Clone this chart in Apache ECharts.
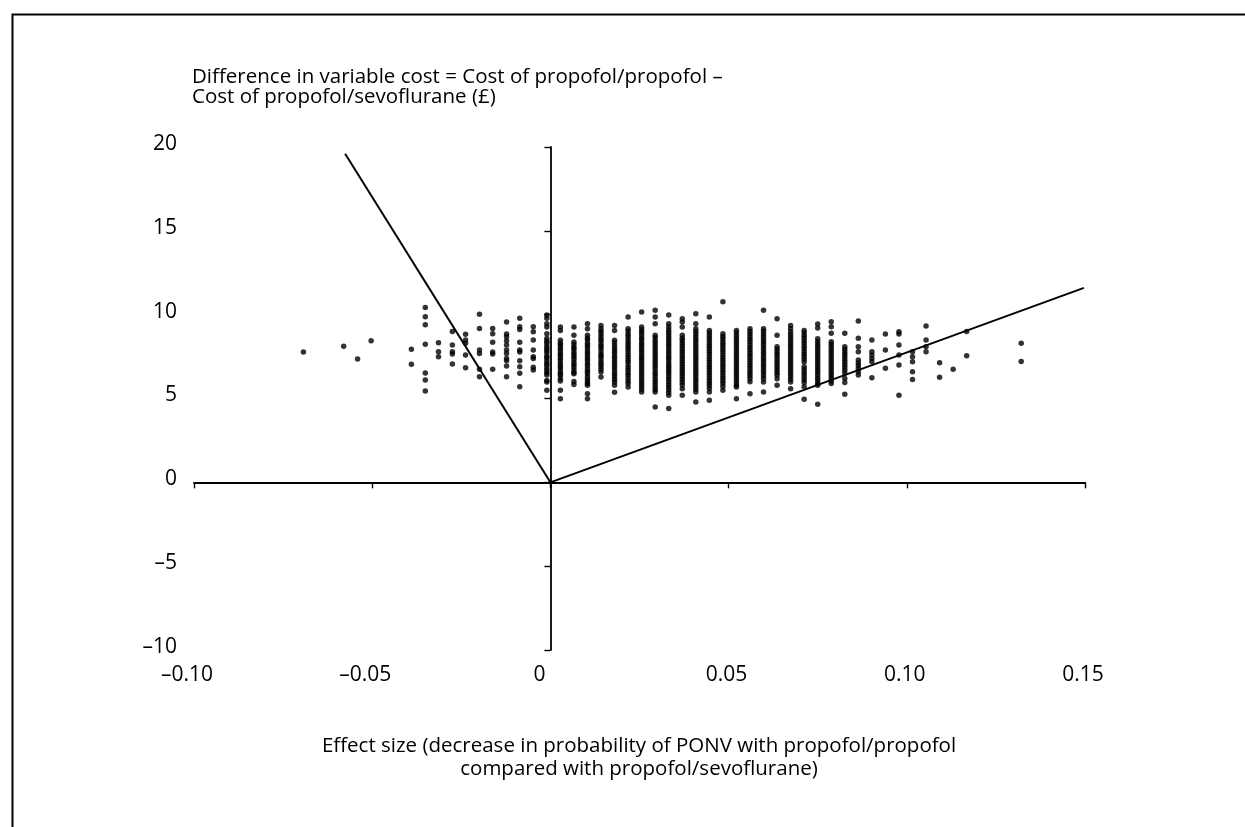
<!DOCTYPE html>
<html>
<head>
<meta charset="utf-8">
<script src="https://cdn.jsdelivr.net/npm/echarts@6/dist/echarts.min.js"></script>
<style>
html,body{margin:0;padding:0;background:#fff;}
#chart{width:1245px;height:827px;}
</style>
</head>
<body>
<div id="chart"></div>
<script>
// ---- data ----
const xTickValues = [-0.10, -0.05, 0, 0.05, 0.10, 0.15];
const xTickLabels = ['\u20130.10', '\u20130.05', '0', '0.05', '0.10', '0.15'];
const yTickValues = [-10, -5, 0, 5, 10, 15, 20];
const yTickLabels = ['\u201310', '\u20135', '0', '5', '10', '15', '20'];

const yAxisTitle = ['Difference in variable cost = Cost of propofol/propofol \u2013', 'Cost of propofol/sevoflurane (\u00a3)'];
const xAxisTitle = ['Effect size (decrease in probability of PONV with propofol/propofol', 'compared with propofol/sevoflurane)'];

// threshold lines through the origin
const thresholdLeft = [[0, 0], [-0.0576, 19.6]];
const thresholdRight = [[0, 0], [0.1497, 11.6]];

// scatter columns: x value of each column and the y values of its points
const colX = [-0.0693, -0.0580, -0.0541, -0.0503, -0.0390, -0.0351, -0.0314, -0.0275, -0.0238, -0.0199,
  -0.0162, -0.0123, -0.0086, -0.0048, -0.0010, 0.0028, 0.0066, 0.0104, 0.0142, 0.0180,
  0.0218, 0.0256, 0.0294, 0.0332, 0.0370, 0.0408, 0.0446, 0.0484, 0.0522, 0.0560,
  0.0598, 0.0636, 0.0674, 0.0712, 0.0750, 0.0788, 0.0826, 0.0864, 0.0902, 0.0940,
  0.0978, 0.1016, 0.1054, 0.1092, 0.1130, 0.1168, 0.1321];
const colY = [
  [7.78],
  [8.11],
  [7.35],
  [8.45],
  [7.93, 7.04],
  [10.43, 9.88, 9.40, 8.23, 6.52, 6.10, 5.45],
  [8.33, 7.79, 7.49],
  [9.00, 8.19, 7.79, 7.65, 7.06],
  [8.83, 8.49, 8.29, 7.59, 6.83],
  [10.02, 9.18, 7.89, 7.69, 6.74, 6.30],
  [9.18, 8.86, 8.35, 7.77, 7.65, 6.74],
  [9.56, 8.85, 8.68, 8.45, 8.19, 7.89, 7.69, 7.39, 7.25, 6.94, 6.30],
  [9.78, 9.28, 9.12, 8.36, 7.89, 7.77, 7.25, 6.90, 6.50, 5.70],
  [9.28, 8.98, 8.49, 7.89, 7.49, 7.39, 6.86, 6.70],
  [9.98, 9.78, 9.46, 9.26, 8.86, 8.58, 8.41, 8.30, 8.12, 7.98, 7.85, 7.71, 7.52, 7.43, 7.27, 7.10, 6.98, 6.81, 6.66, 6.52, 6.40, 6.08, 5.98, 5.49],
  [9.26, 9.06, 8.47, 8.30, 8.18, 8.01, 7.88, 7.70, 7.58, 7.41, 7.29, 7.12, 6.95, 6.83, 6.66, 6.51, 6.38, 6.20, 6.05, 5.49, 4.99],
  [9.26, 8.77, 8.37, 8.22, 8.05, 7.93, 7.76, 7.62, 7.47, 7.33, 7.15, 7.01, 6.87, 6.70, 6.55, 6.48, 6.02, 5.83],
  [9.46, 9.16, 8.77, 8.61, 8.49, 8.30, 8.16, 8.02, 7.85, 7.71, 7.56, 7.40, 7.26, 7.09, 6.95, 6.78, 6.62, 6.49, 6.31, 6.17, 6.02, 5.90, 5.79, 5.28, 4.99],
  [9.36, 9.16, 9.01, 8.86, 8.70, 8.55, 8.41, 8.24, 8.10, 7.96, 7.79, 7.63, 7.50, 7.36, 7.18, 7.05, 6.90, 6.74, 6.58, 6.28],
  [9.36, 9.06, 8.47, 8.32, 8.15, 7.99, 7.84, 7.70, 7.52, 7.39, 7.22, 7.08, 6.91, 6.77, 6.60, 6.45, 6.30, 6.13, 5.98, 5.79, 5.37],
  [9.86, 9.16, 9.02, 8.85, 8.71, 8.55, 8.38, 8.24, 8.08, 7.93, 7.77, 7.61, 7.46, 7.30, 7.17, 7.00, 6.84, 6.69, 6.52, 6.38, 6.21, 6.05, 5.89, 5.68],
  [10.16, 9.26, 9.10, 8.96, 8.80, 8.63, 8.50, 8.33, 8.19, 8.04, 7.88, 7.73, 7.57, 7.42, 7.28, 7.11, 6.97, 6.80, 6.66, 6.49, 6.34, 6.18, 6.02, 5.87, 5.71, 5.55, 5.39],
  [10.26, 9.86, 9.46, 8.77, 8.62, 8.45, 8.31, 8.14, 8.00, 7.84, 7.69, 7.53, 7.39, 7.22, 7.07, 6.92, 6.77, 6.60, 6.46, 6.30, 6.14, 5.99, 5.82, 5.67, 5.52, 5.39, 4.49],
  [9.98, 9.46, 9.26, 9.09, 8.93, 8.78, 8.62, 8.47, 8.31, 8.16, 8.01, 7.85, 7.70, 7.54, 7.40, 7.23, 7.08, 6.93, 6.78, 6.62, 6.47, 6.31, 6.16, 6.00, 5.84, 5.69, 5.52, 5.36, 5.19, 4.41],
  [9.76, 9.56, 9.26, 8.77, 8.60, 8.46, 8.29, 8.15, 7.98, 7.83, 7.68, 7.52, 7.37, 7.21, 7.06, 6.90, 6.75, 6.59, 6.44, 6.28, 6.13, 5.97, 5.80, 5.58, 5.19],
  [10.06, 9.46, 9.16, 9.00, 8.84, 8.69, 8.53, 8.38, 8.22, 8.07, 7.91, 7.76, 7.60, 7.44, 7.29, 7.13, 6.98, 6.82, 6.67, 6.51, 6.36, 6.20, 6.04, 5.88, 5.71, 5.55, 5.39, 4.79],
  [9.86, 9.06, 8.90, 8.74, 8.58, 8.43, 8.27, 8.11, 7.96, 7.80, 7.65, 7.49, 7.33, 7.18, 7.02, 6.87, 6.71, 6.55, 6.40, 6.24, 6.08, 5.93, 5.77, 5.60, 5.39, 4.89],
  [10.77, 8.86, 8.70, 8.55, 8.39, 8.23, 8.08, 7.92, 7.77, 7.61, 7.45, 7.30, 7.14, 6.99, 6.83, 6.67, 6.52, 6.36, 6.21, 6.05, 5.89, 5.72, 5.49],
  [9.06, 8.90, 8.74, 8.59, 8.43, 8.28, 8.12, 7.97, 7.81, 7.65, 7.50, 7.34, 7.19, 7.03, 6.88, 6.72, 6.56, 6.41, 6.25, 6.10, 5.94, 5.79, 5.68, 4.99],
  [9.16, 9.00, 8.84, 8.69, 8.53, 8.38, 8.22, 8.06, 7.91, 7.75, 7.60, 7.44, 7.29, 7.13, 6.97, 6.82, 6.66, 6.51, 6.35, 6.19, 6.00, 5.28],
  [10.26, 9.16, 9.01, 8.85, 8.70, 8.54, 8.39, 8.23, 8.07, 7.92, 7.76, 7.61, 7.45, 7.30, 7.14, 6.98, 6.83, 6.67, 6.52, 6.36, 6.20, 5.98, 5.39],
  [9.76, 8.77, 8.09, 7.93, 7.78, 7.62, 7.47, 7.31, 7.16, 7.00, 6.85, 6.69, 6.54, 6.38, 6.18, 5.79],
  [9.36, 9.16, 8.96, 8.80, 8.64, 8.49, 8.33, 8.18, 8.02, 7.87, 7.71, 7.55, 7.40, 7.24, 7.09, 6.93, 6.78, 6.62, 6.46, 6.31, 6.15, 5.98, 5.58],
  [9.06, 8.90, 8.74, 8.59, 8.43, 8.28, 8.12, 7.96, 7.81, 7.65, 7.50, 7.34, 7.17, 6.90, 6.74, 6.58, 6.43, 6.27, 6.11, 5.95, 5.70, 4.95],
  [9.45, 9.20, 8.56, 8.40, 8.24, 8.09, 7.93, 7.78, 7.62, 7.46, 7.31, 7.15, 7.00, 6.84, 6.68, 6.53, 6.37, 6.21, 6.06, 5.90, 5.79, 4.65],
  [9.58, 9.28, 8.89, 8.39, 8.23, 8.08, 7.92, 7.77, 7.61, 7.46, 7.30, 7.15, 6.99, 6.83, 6.68, 6.52, 6.37, 6.21, 6.05, 5.90],
  [8.89, 8.09, 7.93, 7.78, 7.62, 7.47, 7.31, 7.16, 7.00, 6.85, 6.68, 6.50, 6.20, 5.95, 5.25],
  [9.62, 8.59, 8.09, 7.79, 7.29, 7.12, 6.95, 6.78, 6.60, 6.40],
  [8.49, 7.79, 7.59, 7.39, 7.19, 6.24],
  [8.85, 7.89, 6.80],
  [8.98, 8.85, 8.19, 7.59, 7.00, 5.19],
  [7.79, 7.49, 7.19, 6.60, 6.14],
  [9.32, 8.49, 8.09, 7.79],
  [7.13, 6.26],
  [6.75],
  [9.00, 7.55],
  [8.30, 7.20]
];

// ---- build ----
const points = [];
colX.forEach((x, i) => colY[i].forEach(y => points.push([x, y])));

const FONT = '"Open Sans", "Noto Sans", sans-serif';
function tickFormatter(values, labels) {
  return v => {
    for (let i = 0; i < values.length; i++) {
      if (Math.abs(values[i] - v) < 1e-9) {
        const t = labels[i];
        if (Math.abs(v) < 1e-12) return '{z|' + t + '}';
        if (v < 0) return '{n|' + t + '}';
        return '{p|' + t + '}';
      }
    }
    return '';
  };
}
const labelText = {color: '#000', fontSize: 21, fontFamily: FONT};

const chart = echarts.init(document.getElementById('chart'), null, {renderer: 'canvas'});
chart.setOption({
  animation: false,
  backgroundColor: '#fff',
  grid: {left: 194, right: 160, top: 147, bottom: 177, containLabel: false},
  xAxis: [
    {
      type: 'value', min: -0.10, max: 0.15, interval: 0.05, position: 'bottom',
      axisLine: {show: false, onZero: false},
      axisTick: {show: false},
      splitLine: {show: false},
      axisLabel: {
        formatter: tickFormatter(xTickValues, xTickLabels), margin: 15,
        color: '#000', fontSize: 21, fontFamily: FONT,
        rich: {
          p: Object.assign({padding: [0, 4, 0, 0]}, labelText),
          n: Object.assign({padding: [0, 14, 0, 0]}, labelText),
          z: Object.assign({padding: [0, 22, 0, 0]}, labelText)
        }
      }
    },
    {
      type: 'value', min: -0.10, max: 0.15, interval: 0.05, position: 'bottom',
      axisLine: {show: true, onZero: true, onZeroAxisIndex: 0, lineStyle: {color: '#000', width: 1.8}},
      axisTick: {show: true, length: 6, lineStyle: {color: '#000', width: 1.4}},
      splitLine: {show: false},
      axisLabel: {show: false}
    }
  ],
  yAxis: [
    {
      type: 'value', min: -10, max: 20, interval: 5, position: 'left',
      axisLine: {show: false, onZero: false},
      axisTick: {show: false},
      splitLine: {show: false},
      axisLabel: {
        formatter: v => {
          for (let i = 0; i < yTickValues.length; i++) {
            if (yTickValues[i] === v) return '{a|' + yTickLabels[i] + '}';
          }
          return '';
        },
        margin: 17, color: '#000', fontSize: 21, fontFamily: FONT,
        rich: {a: Object.assign({padding: [0, 0, 6, 0]}, labelText)}
      }
    },
    {
      type: 'value', min: -10, max: 20, interval: 5, position: 'left',
      axisLine: {show: true, onZero: true, onZeroAxisIndex: 0, lineStyle: {color: '#000', width: 1.8}},
      axisTick: {show: true, length: 6, lineStyle: {color: '#000', width: 1.4}},
      splitLine: {show: false},
      axisLabel: {show: false}
    }
  ],
  series: [
    {
      type: 'line', xAxisIndex: 0, yAxisIndex: 0, data: thresholdLeft, symbol: 'none',
      lineStyle: {color: '#000', width: 2}, silent: true, z: 3
    },
    {
      type: 'line', xAxisIndex: 0, yAxisIndex: 0, data: thresholdRight, symbol: 'none',
      lineStyle: {color: '#000', width: 2}, silent: true, z: 3
    },
    {
      type: 'scatter', xAxisIndex: 0, yAxisIndex: 0, data: points, symbol: 'circle', symbolSize: 5.5,
      itemStyle: {color: '#000'}, silent: true, z: 4
    }
  ],
  graphic: [
    {type: 'rect', left: 10, top: 12, shape: {x: 0, y: 0, width: 1300, height: 900},
      style: {fill: 'none', stroke: '#000', lineWidth: 2}, silent: true, z: 0},
    {type: 'text', x: 192, y: 77,
      style: {text: yAxisTitle[0], font: '20.5px ' + FONT, fill: '#000', align: 'left', verticalAlign: 'middle'}},
    {type: 'text', x: 192, y: 97,
      style: {text: yAxisTitle[1], font: '20.5px ' + FONT, fill: '#000', align: 'left', verticalAlign: 'middle'}},
    {type: 'text', x: 639, y: 746,
      style: {text: xAxisTitle[0], font: '20.5px ' + FONT, fill: '#000', align: 'center', verticalAlign: 'middle'}},
    {type: 'text', x: 639, y: 769,
      style: {text: xAxisTitle[1], font: '20.5px ' + FONT, fill: '#000', align: 'center', verticalAlign: 'middle'}}
  ]
});
</script>
</body>
</html>
